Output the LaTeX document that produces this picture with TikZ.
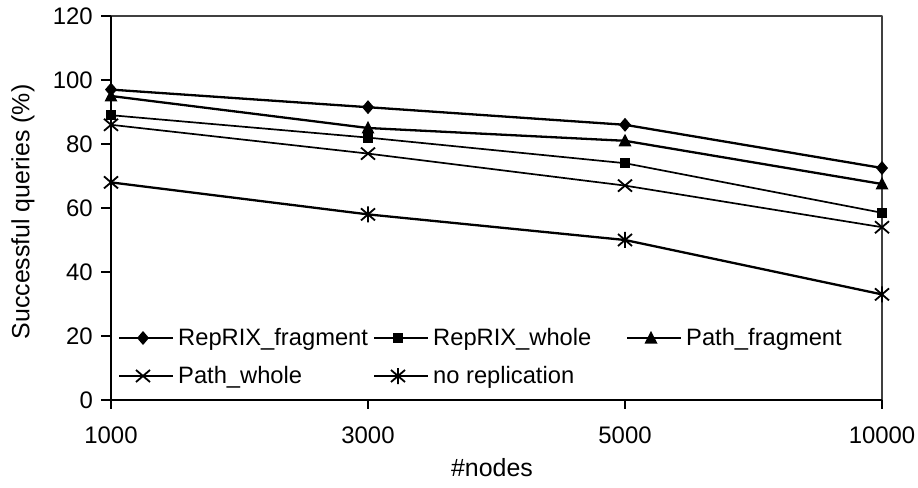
\documentclass[tikz,border=0pt]{standalone}
\usepackage{fontspec}
\setmainfont{Liberation Sans}
\begin{document}
\begin{tikzpicture}[x=1bp,y=-1bp,line join=round,
  dline/.style={line width=2.3bp},
  wline/.style={line width=1.7bp},
  ticklab/.style={font=\fontsize{24}{28}\selectfont,inner sep=0pt},
  leglab/.style={font=\fontsize{23.8}{28}\selectfont,inner sep=0pt,anchor=west},
  mdia/.pic={\fill (0,-7) -- (6,0) -- (0,7) -- (-6,0) -- cycle;},
  msq/.pic={\fill (-5,-5) rectangle (5,5);},
  mtri/.pic={\fill (0,-7) -- (6.5,5.5) -- (-6.5,5.5) -- cycle;},
  mx/.pic={\draw[line width=1.8bp] (-7,-6) -- (7,6) (-7,6) -- (7,-6);},
  mast/.pic={\draw[line width=1.8bp] (-7,-6) -- (7,6) (-7,6) -- (7,-6) (0,-8) -- (0,8);}]
\useasboundingbox (0,0) rectangle (918,488);
% plot frame
\draw[line width=1.3bp,black!75] (111,16) -- (882,16) -- (882,400);
\draw[line width=1.9bp] (111,16) -- (111,400) -- (882,400);
% y ticks and labels
\foreach \v in {0,20,...,120}{
  \draw[line width=1.6bp] (101,{400-3.2*\v}) -- (111,{400-3.2*\v});
  \node[ticklab,anchor=east] at (93,{400-3.2*\v}) {\v};
}
% x ticks and labels
\foreach \xx/\lab in {111/1000,368/3000,625/5000,882/10000}{
  \draw[line width=1.6bp] (\xx,400) -- (\xx,409);
  \node[ticklab] at (\xx,435) {\lab};
}
% axis titles
\node[font=\fontsize{25}{30}\selectfont,rotate=90,inner sep=0pt] (ytitle) at (23,212) {Successful queries (\%)};
\node[font=\fontsize{25}{30}\selectfont,inner sep=0pt] (xtitle) at (492,468) {\#nodes};
% data series
\foreach \style/\mk/\a/\b/\c/\d in {
  wline/mx/86/77/67/54,
  dline/mast/68/58/50/33,
  wline/msq/89/82/74/58.5,
  dline/mtri/95/85/81/67.5,
  dline/mdia/97/91.5/86/72.5}{
  \coordinate (p1) at (111,{400-3.2*\a});
  \coordinate (p2) at (368,{400-3.2*\b});
  \coordinate (p3) at (625,{400-3.2*\c});
  \coordinate (p4) at (882,{400-3.2*\d});
  \draw[\style] (p1) -- (p2) -- (p3) -- (p4);
  \foreach \p in {p1,p2,p3,p4}{\pic at (\p) {\mk};}
}
% legend
\foreach \x/\y/\style/\mk/\lab in {
  119/338/dline/mdia/RepRIX\_fragment,
  374/338/wline/msq/RepRIX\_whole,
  627/338/dline/mtri/Path\_fragment,
  119/376/wline/mx/Path\_whole,
  374/376/dline/mast/no replication}{
  \coordinate (la) at (\x,\y);
  \coordinate (lb) at (\x+54,\y);
  \coordinate (lm) at (\x+24,\y);
  \draw[\style] (la) -- (lb);
  \pic at (lm) {\mk};
  \node[leglab] at (\x+59,\y+1) {\lab};
}
\end{tikzpicture}
\end{document}
